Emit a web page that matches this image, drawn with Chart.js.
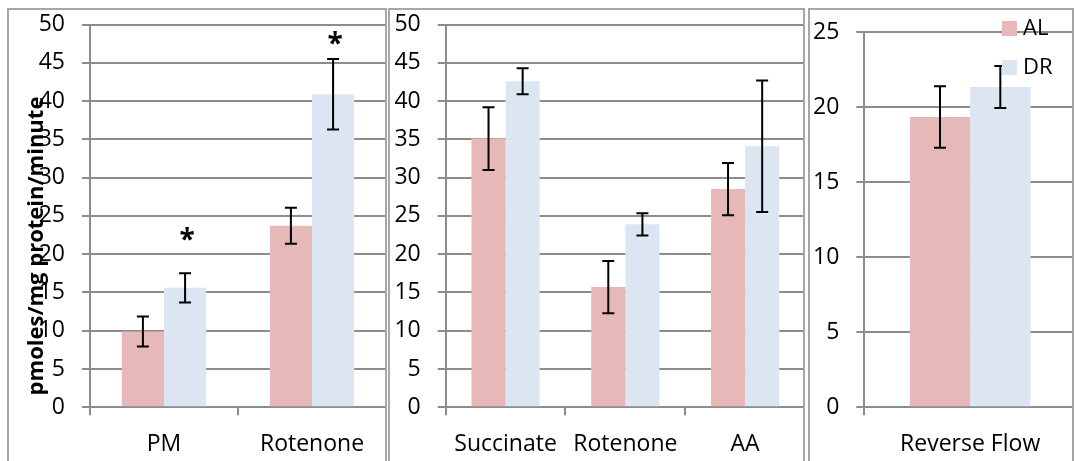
<!DOCTYPE html>
<html>
<head>
<meta charset="utf-8">
<script src="https://cdn.jsdelivr.net/npm/chart.js@4.4.1/dist/chart.umd.min.js"></script>
<style>
    body { margin: 0; background: #fff; width: 1075px; height: 461px; overflow: hidden; position: relative; }
    .panel { position: absolute; top: 8px; height: 470px; border: 2px solid #a6a6a6; overflow: hidden; }
    .panel canvas { position: absolute; left: 0; }
</style>
</head>
<body>
<div class="panel" style="left:7px; width:376px;"><canvas id="forward-chart" width="377" height="477" style="top:-26px"></canvas></div>
<div class="panel" style="left:388px; width:413px;"><canvas id="complex-chart" width="415" height="477" style="top:-26px"></canvas></div>
<div class="panel" style="left:808px; width:262px;"><canvas id="reverse-chart" width="266" height="469" style="top:-18px"></canvas></div>

<script>
// Series
const seriesNames = ['AL', 'DR'];
const seriesColors = ['#E6B9B8', '#DCE6F2'];

// Forward flow (PM / Rotenone)
const forwardCats = ['PM', 'Rotenone'];
const forwardAL = [9.9, 23.7];
const forwardALErr = [1.95, 2.35];
const forwardDR = [15.6, 40.9];
const forwardDRErr = [1.9, 4.6];
const forwardStars = [22.5, 48.1];   // height of the * marks over DR

// Succinate / Rotenone / AA
const complexCats = ['Succinate', 'Rotenone', 'AA'];
const complexAL = [35.1, 15.7, 28.5];
const complexALErr = [4.1, 3.4, 3.4];
const complexDR = [42.6, 23.9, 34.1];
const complexDRErr = [1.7, 1.45, 8.6];

// Reverse flow
const reverseCats = ['Reverse Flow'];
const reverseAL = [19.35];
const reverseALErr = [2.05];
const reverseDR = [21.35];
const reverseDRErr = [1.4];

const yTitle = 'pmoles/mg protein/minute';

const FONT = "'Open Sans'";
const gridColor = '#8c8c8c';

// whiskers on every bar, from the dataset's errors array
const errorBars = {
    id: 'errorBars',
    afterDatasetsDraw(chart) {
        const ctx = chart.ctx;
        const y = chart.scales.y;
        ctx.save();
        ctx.strokeStyle = '#000';
        ctx.lineWidth = 2;
        chart.data.datasets.forEach((ds, i) => {
            chart.getDatasetMeta(i).data.forEach((bar, j) => {
                const v = ds.data[j], e = ds.errors[j];
                const top = y.getPixelForValue(v + e);
                const bot = y.getPixelForValue(v - e);
                ctx.beginPath();
                ctx.moveTo(bar.x, top); ctx.lineTo(bar.x, bot);
                ctx.moveTo(bar.x - 6, top); ctx.lineTo(bar.x + 6, top);
                ctx.moveTo(bar.x - 6, bot); ctx.lineTo(bar.x + 6, bot);
                ctx.stroke();
            });
        });
        ctx.restore();
    }
};

// significance asterisks
const stars = {
    id: 'stars',
    afterDatasetsDraw(chart, args, opts) {
        if (!opts.values) return;
        const ctx = chart.ctx;
        const meta = chart.getDatasetMeta(opts.dataset);
        ctx.save();
        ctx.font = 'bold 28px ' + FONT;
        ctx.fillStyle = '#000';
        ctx.textAlign = 'center';
        ctx.textBaseline = 'middle';
        opts.values.forEach((v, j) => {
            if (v == null) return;
            ctx.fillText('*', meta.data[j].x + 2, chart.scales.y.getPixelForValue(v) + 6);
        });
        ctx.restore();
    }
};

// legend boxes sitting inside the plot, top right
const insideLegend = {
    id: 'insideLegend',
    afterDraw(chart, args, opts) {
        if (!opts.show) return;
        const ctx = chart.ctx;
        ctx.save();
        ctx.font = '22px ' + FONT;
        ctx.textBaseline = 'middle';
        chart.data.datasets.forEach((ds, i) => {
            const top = opts.top + i * opts.gap;
            ctx.fillStyle = ds.backgroundColor;
            ctx.fillRect(opts.left, top, 15, 15);
            ctx.fillStyle = '#000';
            ctx.fillText(ds.label, opts.left + 21, top + 8);
        });
        ctx.restore();
    }
};

// rotated axis title, drawn over the tick labels
const axisTitle = {
    id: 'axisTitle',
    afterDraw(chart, args, opts) {
        if (!opts.text) return;
        const ctx = chart.ctx;
        ctx.save();
        ctx.translate(opts.x, opts.y);
        ctx.rotate(-Math.PI / 2);
        ctx.font = 'bold 22px ' + FONT;
        ctx.fillStyle = '#000';
        ctx.textAlign = 'center';
        ctx.textBaseline = 'alphabetic';
        ctx.fillText(opts.text, 0, 0);
        ctx.restore();
    }
};

function makeDatasets(al, alErr, dr, drErr) {
    return [
        { label: seriesNames[0], data: al, errors: alErr, backgroundColor: seriesColors[0] },
        { label: seriesNames[1], data: dr, errors: drErr, backgroundColor: seriesColors[1] }
    ];
}

function makeChart(id, cats, datasets, cfg) {
    const ctx = document.getElementById(id).getContext('2d');
    return new Chart(ctx, {
        type: 'bar',
        data: { labels: cats, datasets: datasets },
        options: {
            responsive: false,
            animation: false,
            datasets: { bar: { categoryPercentage: 0.57, barPercentage: 1.0 } },
            layout: { padding: { top: cfg.top, right: 0, bottom: 0, left: 0 } },
            plugins: {
                legend: { display: false },
                tooltip: { enabled: false },
                stars: cfg.stars || {},
                insideLegend: cfg.legend || {},
                axisTitle: cfg.title || {}
            },
            scales: {
                x: {
                    grid: { offset: true, drawOnChartArea: false, drawTicks: true, tickLength: 8, color: gridColor, lineWidth: 2 },
                    border: { color: gridColor, width: 2 },
                    ticks: { color: '#000', font: { family: FONT, size: 23 }, padding: 15, maxRotation: 0 },
                    afterFit: (scale) => { scale.height = 53.7; }
                },
                y: {
                    min: 0,
                    max: cfg.max,
                    grid: { color: gridColor, lineWidth: 2, tickLength: 8 },
                    border: { color: gridColor, width: 2 },
                    ticks: { stepSize: 5, color: '#000', font: { family: FONT, size: 23 }, padding: 17 },
                    afterFit: (scale) => { scale.width = cfg.axisX; }
                }
            }
        },
        plugins: [errorBars, stars, insideLegend, axisTitle]
    });
}

// canvases start above their panels, so the top padding is measured from there
makeChart('forward-chart', forwardCats,
    makeDatasets(forwardAL, forwardALErr, forwardDR, forwardDRErr),
    { top: 40.5, max: 50, axisX: 81,
      stars: { dataset: 1, values: forwardStars },
      title: { text: yTitle, x: 34, y: 262 } });

makeChart('complex-chart', complexCats,
    makeDatasets(complexAL, complexALErr, complexDR, complexDRErr),
    { top: 40.5, max: 50, axisX: 55.7 });

makeChart('reverse-chart', reverseCats,
    makeDatasets(reverseAL, reverseALErr, reverseDR, reverseDRErr),
    { top: 40.3, max: 25, axisX: 54.3,
      legend: { show: true, left: 192, top: 29, gap: 39 } });
</script>
</body>
</html>
